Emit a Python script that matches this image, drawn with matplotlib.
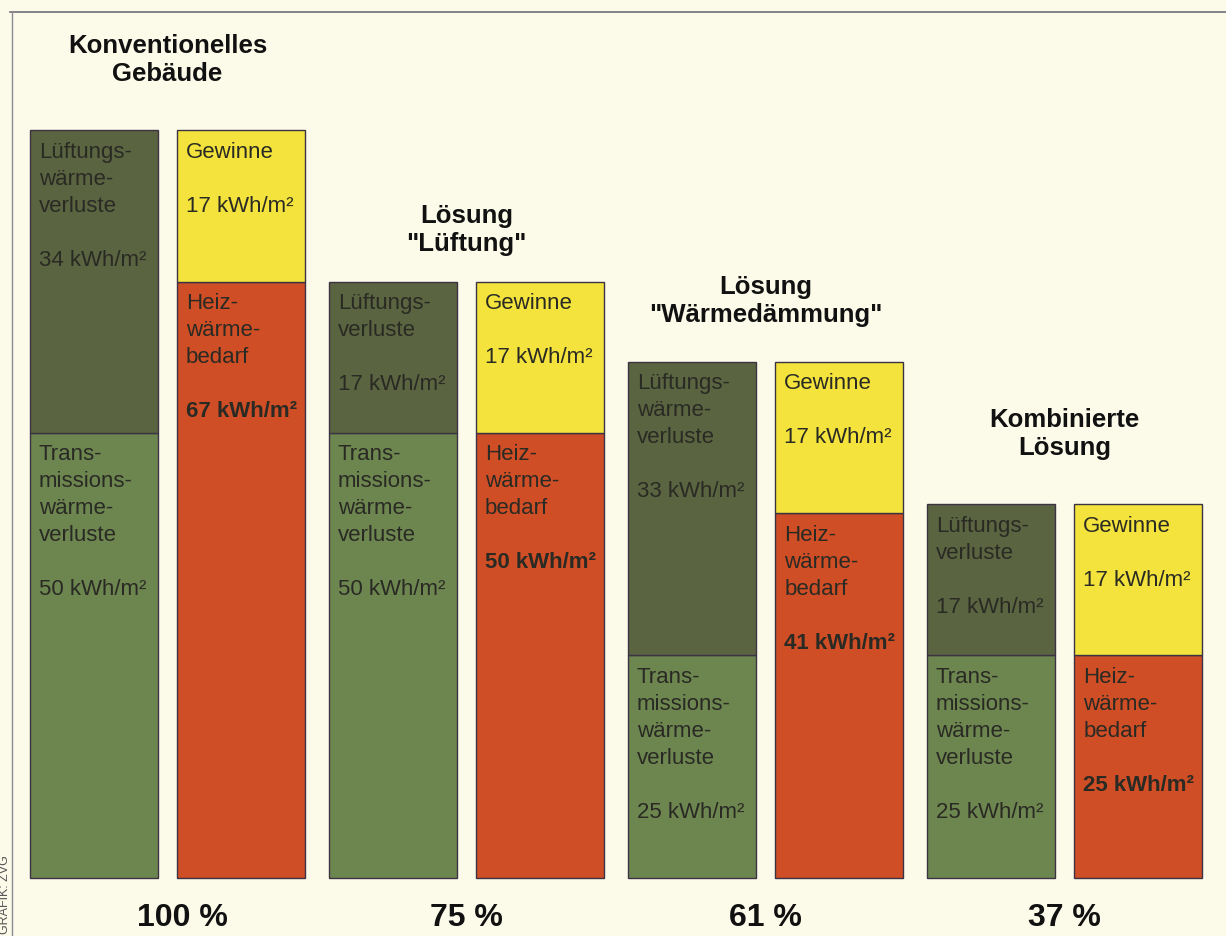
import matplotlib
matplotlib.use("Agg")
import matplotlib.pyplot as plt
from matplotlib.lines import Line2D

plt.rcParams["font.family"] = ["Liberation Sans", "DejaVu Sans"]

# Daten (kWh/m2 und Jahr)
titel = ["Konventionelles\nGebäude", "Lösung\n\"Lüftung\"",
         "Lösung\n\"Wärmedämmung\"", "Kombinierte\nLösung"]
transmission = [50, 50, 25, 25]
lueftung = [34, 17, 33, 17]
heizbedarf = [67, 50, 41, 25]
gewinne = [17, 17, 17, 17]
anteil = ["100 %", "75 %", "61 %", "37 %"]
lueft_text = ["Lüftungs-\nwärme-\nverluste", "Lüftungs-\nverluste",
              "Lüftungs-\nwärme-\nverluste", "Lüftungs-\nverluste"]

C_LUEFT = "#5b6440"
C_TRANS = "#6d8650"
C_GEW = "#f3e33c"
C_HEIZ = "#cf4e25"
C_EDGE = "#3b3344"
C_TXT = "#2a2a24"
BG = "#fcfbe9"

PX = 0.72  # pixel -> punkt bei dpi 100
prozent_dx = [15, 0, 0, 0]  # kleine Verschiebung der Prozentangaben (px)
titel_dy = [70, 52, 61, 70]  # Abstand Titel ueber Balken (px)

fig = plt.figure(figsize=(12.26, 9.36), dpi=100, facecolor=BG)
ax = fig.add_axes([0, 0, 1, 1])
ax.set_facecolor(BG)
ax.set_xlim(-0.560, 3.540)
ax.set_ylim(-6.52, 98.65)
ax.axis("off")

w = 0.428
d = 0.246


def seg_text(x_left, top, zeilen, bold_last=False):
    for k, z in enumerate(zeilen):
        if z == "":
            continue
        fw = "bold" if (bold_last and k == len(zeilen) - 1) else "normal"
        ax.annotate(z, xy=(x_left, top), xytext=(9 * PX, -(22 + 27 * k) * PX),
                    textcoords="offset points", ha="left", va="center",
                    fontsize=16, color=C_TXT, fontweight=fw)


for i in range(4):
    xl = i - d
    xr = i + d
    ax.bar(xl, transmission[i], width=w, color=C_TRANS, edgecolor=C_EDGE, linewidth=1)
    ax.bar(xl, lueftung[i], bottom=transmission[i], width=w, color=C_LUEFT,
           edgecolor=C_EDGE, linewidth=1)
    ax.bar(xr, heizbedarf[i], width=w, color=C_HEIZ, edgecolor=C_EDGE, linewidth=1)
    ax.bar(xr, gewinne[i], bottom=heizbedarf[i], width=w, color=C_GEW,
           edgecolor=C_EDGE, linewidth=1)

    ll = xl - w / 2
    rl = xr - w / 2
    top_l = transmission[i] + lueftung[i]
    top_r = heizbedarf[i] + gewinne[i]

    seg_text(ll, top_l, lueft_text[i].split("\n") + ["", f"{lueftung[i]} kWh/m²"])
    seg_text(ll, transmission[i],
             ["Trans-", "missions-", "wärme-", "verluste", "", f"{transmission[i]} kWh/m²"])
    seg_text(rl, top_r, ["Gewinne", "", f"{gewinne[i]} kWh/m²"])
    seg_text(rl, heizbedarf[i], ["Heiz-", "wärme-", "bedarf", "", f"{heizbedarf[i]} kWh/m²"],
             bold_last=True)

    ax.annotate(titel[i], xy=(i, max(top_l, top_r)), xytext=(0, titel_dy[i] * PX),
                textcoords="offset points", ha="center", va="center",
                fontsize=18.5, fontweight="bold", color="#111111", linespacing=1.2)
    ax.annotate(anteil[i], xy=(i, 0), xytext=(prozent_dx[i] * PX, -40 * PX),
                textcoords="offset points", ha="center", va="center",
                fontsize=23, fontweight="bold", color="#111111")

# Rahmenlinien
fig.add_artist(Line2D([10 / 1226, 1], [1 - 12 / 936, 1 - 12 / 936],
                      transform=fig.transFigure, color="#6f6f78", lw=1.2))
fig.add_artist(Line2D([12 / 1226, 12 / 1226], [0, 1 - 12 / 936],
                      transform=fig.transFigure, color="#8a8a95", lw=1.0))
fig.text(5 / 1226, 0.002, "GRAFIK: ZVG", rotation=90, ha="center", va="bottom",
         fontsize=9, color="#555555")

fig.savefig("out.png", dpi=100, facecolor=BG)
